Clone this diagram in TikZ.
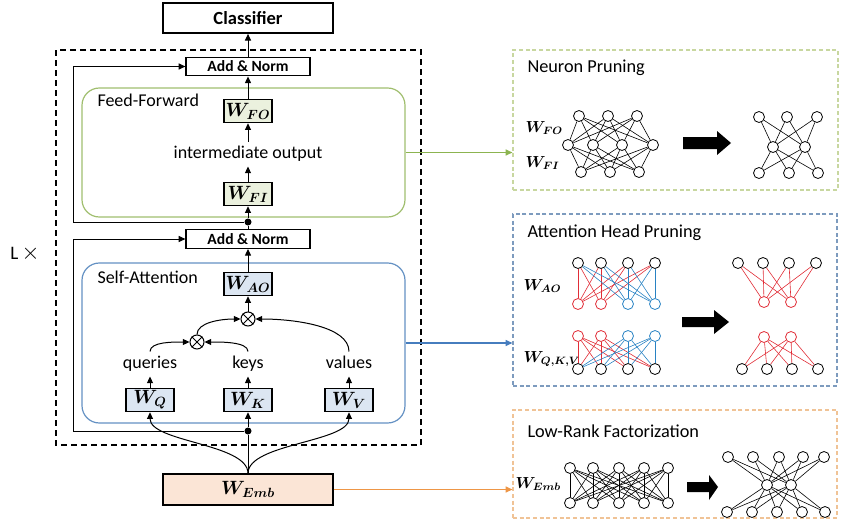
\documentclass[tikz,border=0pt]{standalone}
\usepackage{amsmath}
\usepackage{fontspec}
\usepackage{bm}
\setmainfont{Carlito}
\usetikzlibrary{arrows.meta}

\definecolor{ffline}{RGB}{160,190,110}
\definecolor{ffarrow}{RGB}{140,180,80}
\definecolor{ffpanel}{RGB}{200,215,160}
\definecolor{wfofill}{RGB}{235,241,222}
\definecolor{saline}{RGB}{100,145,195}
\definecolor{saarrow}{RGB}{70,125,190}
\definecolor{sapanel}{RGB}{125,155,190}
\definecolor{wqfill}{RGB}{220,230,242}
\definecolor{embfill}{RGB}{251,229,214}
\definecolor{lrarrow}{RGB}{238,150,70}
\definecolor{lrpanel}{RGB}{240,195,150}
\definecolor{hred}{RGB}{225,45,55}
\definecolor{hblue}{RGB}{40,130,195}

\tikzset{every picture/.style={line width=0.75pt}}
\tikzset{
  arr/.style={-{Triangle[length=5pt,width=4.5pt]}},
  blk/.style={draw, inner sep=0pt, line width=0.9pt},
  wbox/.style={blk, minimum width=36pt, minimum height=17.5pt, font=\fontsize{14.5}{16}\selectfont},
  addnorm/.style={blk, minimum width=93pt, minimum height=14pt, font=\fontsize{11.7}{13}\selectfont\bfseries},
  lbl/.style={anchor=base, inner xsep=1pt, inner ysep=3pt, text height=9pt, text depth=3pt, font=\fontsize{13.5}{16}\selectfont},
  ttl/.style={anchor=base west, inner sep=0pt, font=\fontsize{13.7}{16}\selectfont},
  wlbl/.style={anchor=base west, inner sep=0pt, font=\fontsize{11.5}{13}\selectfont},
  jnt/.style={circle, fill, inner sep=0pt, minimum size=5.25pt},
  mul/.style={circle, draw, inner sep=0pt, minimum size=10.5pt},
  nrn/.style={circle, draw, inner sep=0pt, minimum size=8.25pt, line width=0.6pt},
  panel/.style={draw, dash pattern={on 3pt off 2pt}, line width=0.9pt, inner sep=0pt},
  wire/.style={line width=0.45pt},
}

\begin{document}
\begin{tikzpicture}[x=0.75pt,y=0.75pt,yscale=-1,xscale=1]
\useasboundingbox (0,0) rectangle (850,532);
% encoder layer frame
\draw [dash pattern={on 4.5pt off 3pt}, line width=1.1pt] (56,50) rectangle (421,445);
\node [anchor=base, inner sep=0pt, font=\fontsize{14.3}{16}\selectfont] (nl) at (25,259) {L\,{\fontsize{17}{18}\selectfont$\times$}};

% sub-layer boxes
\node [draw=ffline, rounded corners=13pt, minimum width=242.25pt, minimum height=96.75pt, line width=0.9pt] (ff) at (243.5,152.5) {};
\node [draw=saline, rounded corners=13pt, minimum width=242.25pt, minimum height=120pt, line width=0.9pt] (sa) at (243.5,343) {};
\node [ttl, font=\fontsize{13.5}{16}\selectfont] (fft) at (97,106) {Feed-Forward};
\node [ttl, font=\fontsize{13.5}{16}\selectfont] (sat) at (97,283) {Self-Attention};

% blocks
\node [blk, line width=1.3pt, minimum width=127.5pt, minimum height=22.5pt, font=\fontsize{13.9}{16}\selectfont\bfseries] (cls) at (248,18) {Classifier};
\node [addnorm] (an2) at (248,66.5) {Add \& Norm};
\node [wbox, fill=wfofill] (wfo) at (248,111) {$\bm{W_{FO}}$};
\node [lbl] (io) at (248,158) {intermediate output};
\node [wbox, fill=wfofill] (wfi) at (248,194) {$\bm{W_{FI}}$};
\node [jnt] (j2) at (248,222) {};
\node [addnorm] (an1) at (248,239) {Add \& Norm};
\node [wbox, fill=wqfill] (wao) at (248,284) {$\bm{W_{AO}}$};
\node [mul] (m2) at (248,319) {};
\node [mul] (m1) at (197,342) {};
\node [lbl] (qry) at (150,368) {queries};
\node [lbl] (key) at (248,368) {keys};
\node [lbl] (val) at (349,368) {values};
\node [wbox, fill=wqfill] (wq) at (150,400) {$\bm{W_{Q}}$};
\node [wbox, fill=wqfill] (wk) at (248,400) {$\bm{W_{K}}$};
\node [wbox, fill=wqfill] (wv) at (349,400) {$\bm{W_{V}}$};
\node [jnt] (j1) at (248,431) {};
\node [blk, fill=embfill, minimum width=127.5pt, minimum height=23.25pt, font=\fontsize{14.5}{16}\selectfont] (emb) at (248,489.5) {$\bm{W_{Emb}}$};
\draw (m1.north west) -- (m1.south east) (m1.north east) -- (m1.south west);
\draw (m2.north west) -- (m2.south east) (m2.north east) -- (m2.south west);

% data flow
\draw [arr] (an2) -- (cls);
\draw [arr] (wfo) -- (an2);
\draw [arr] (io) -- (wfo);
\draw [arr] (wfi) -- (io);
\draw [arr] (j2) -- (wfi);
\draw (an1) -- (j2);
\draw [arr] (j2) -- ++(-175,0) |- (an2);
\draw [arr] (wao) -- (an1);
\draw [arr] (m2) -- (wao);
\draw [arr] (m1.north) .. controls +(0,-12) and +(-20,0) .. (m2.west);
\draw [arr] (val.north) .. controls +(0,-25) and +(40,0) .. (m2.east);
\draw [arr] (qry.north) .. controls +(0,-10) and +(-15,0) .. (m1.west);
\draw [arr] (key.north) .. controls +(0,-10) and +(15,0) .. (m1.east);
\draw [arr] (wq) -- (qry);
\draw [arr] (wk) -- (key);
\draw [arr] (wv) -- (val);
\draw [arr] (j1) -- (wk);
\draw [arr] (j1) -- ++(-175,0) |- (an1);
\draw (emb) -- (j1);
\draw [arr] (emb.north) .. controls +(0,-30) and +(0,30) .. (wq.south);
\draw [arr] (emb.north) .. controls +(0,-30) and +(0,30) .. (wv.south);

% compression panels
\node [panel, draw=ffpanel, minimum width=243.75pt, minimum height=105pt] (np) at (675.5,120) {};
\node [panel, draw=sapanel, minimum width=243pt, minimum height=129pt] (ap) at (675,300) {};
\node [panel, draw=lrpanel, minimum width=243pt, minimum height=81pt] (lr) at (675,464) {};
\node [ttl] (npt) at (527,72) {Neuron Pruning};
\node [ttl] (apt) at (527,237) {Attention Head Pruning};
\node [ttl] (lrt) at (527,437) {Low-Rank Factorization};
\node [wlbl] (npw1) at (525,132) {$\bm{W_{FO}}$};
\node [wlbl] (npw2) at (525,167) {$\bm{W_{FI}}$};
\node [wlbl] (apw1) at (523,290) {$\bm{W_{AO}}$};
\node [wlbl] (apw2) at (523,362) {$\bm{W_{Q,K,V}}$};
\node [wlbl] (lrw) at (515,488) {$\bm{W_{Emb}}$};

\draw [arr, ffarrow, line width=1pt] (ff.east) -- (ff.east -| np.west);
\draw [arr, saarrow, line width=1pt] (sa.east) -- (sa.east -| ap.west);
\draw [arr, lrarrow, line width=1pt] (emb.east) -- (emb.east -| lr.west);

% neuron pruning
\foreach \x [count=\i] in {579,608,637} \node [nrn] (fa\i) at (\x,116) {};
\foreach \x [count=\i] in {568,593,622,653} \node [nrn] (fb\i) at (\x,145) {};
\foreach \x [count=\i] in {581,610,639} \node [nrn] (fc\i) at (\x,172) {};
\foreach \i in {1,2,3} \foreach \j in {1,...,4} {\draw [wire] (fa\i) -- (fb\j); \draw [wire] (fc\i) -- (fb\j);}
\foreach \x [count=\i] in {759,787,817} \node [nrn] (ga\i) at (\x,117) {};
\foreach \x [count=\i] in {773,805} \node [nrn] (gb\i) at (\x,147) {};
\foreach \x [count=\i] in {759,789,818} \node [nrn] (gc\i) at (\x,173) {};
\foreach \i in {1,2,3} \foreach \j in {1,2} {\draw [wire] (ga\i) -- (gb\j); \draw [wire] (gc\i) -- (gb\j);}
\fill (683,137) -- (717,137) -- (717,131) -- (731,143) -- (717,155) -- (717,149) -- (683,149) -- cycle;

% attention head pruning
\foreach \x [count=\i] in {578,601,628,655} {
  \node [nrn] (ha\i) at (\x,263) {};
  \node [nrn] (hd\i) at (\x,369) {};
}
\foreach \x/\c [count=\i] in {578/hred,601/hred,628/hblue,655/hblue} {
  \node [nrn, draw=\c] (hb\i) at (\x,304) {};
  \node [nrn, draw=\c] (hc\i) at (\x,336) {};
  \foreach \j in {1,...,4} {\draw [wire, \c] (hb\i) -- (ha\j); \draw [wire, \c] (hc\i) -- (hd\j);}
}
\foreach \x [count=\i] in {738,763,789,816} \node [nrn] (ka\i) at (\x,263) {};
\foreach \x [count=\i] in {742,767,792,818} \node [nrn] (kd\i) at (\x,369) {};
\foreach \x [count=\i] in {764,791} {
  \node [nrn, draw=hred] (kb\i) at (\x,302) {};
  \node [nrn, draw=hred] (kc\i) at (\x,337) {};
  \foreach \j in {1,...,4} {\draw [wire, hred] (kb\i) -- (ka\j); \draw [wire, hred] (kc\i) -- (kd\j);}
}
\fill (682,317) -- (714,317) -- (714,310) -- (729,322) -- (714,334) -- (714,327) -- (682,327) -- cycle;

% low-rank factorization
\foreach \x [count=\i] in {570,593,619,644,668} {
  \node [nrn] (la\i) at (\x,468) {};
  \node [nrn] (lb\i) at (\x,503) {};
}
\foreach \i in {1,...,5} \foreach \j in {1,...,5} \draw [wire] (la\i) -- (lb\j);
\foreach \x [count=\i] in {728,753,779,803,824} \node [nrn] (ma\i) at (\x,457) {};
\foreach \x [count=\i] in {767,791} \node [nrn] (mb\i) at (\x,485) {};
\foreach \x [count=\i] in {727,752,777,802,825} \node [nrn] (mc\i) at (\x,512) {};
\foreach \i in {1,...,5} \foreach \j in {1,2} {\draw [wire] (ma\i) -- (mb\j); \draw [wire] (mc\i) -- (mb\j);}
\fill (687,482) -- (709,482) -- (709,475) -- (718,487) -- (709,500) -- (709,492) -- (687,492) -- cycle;
\end{tikzpicture}
\end{document}
